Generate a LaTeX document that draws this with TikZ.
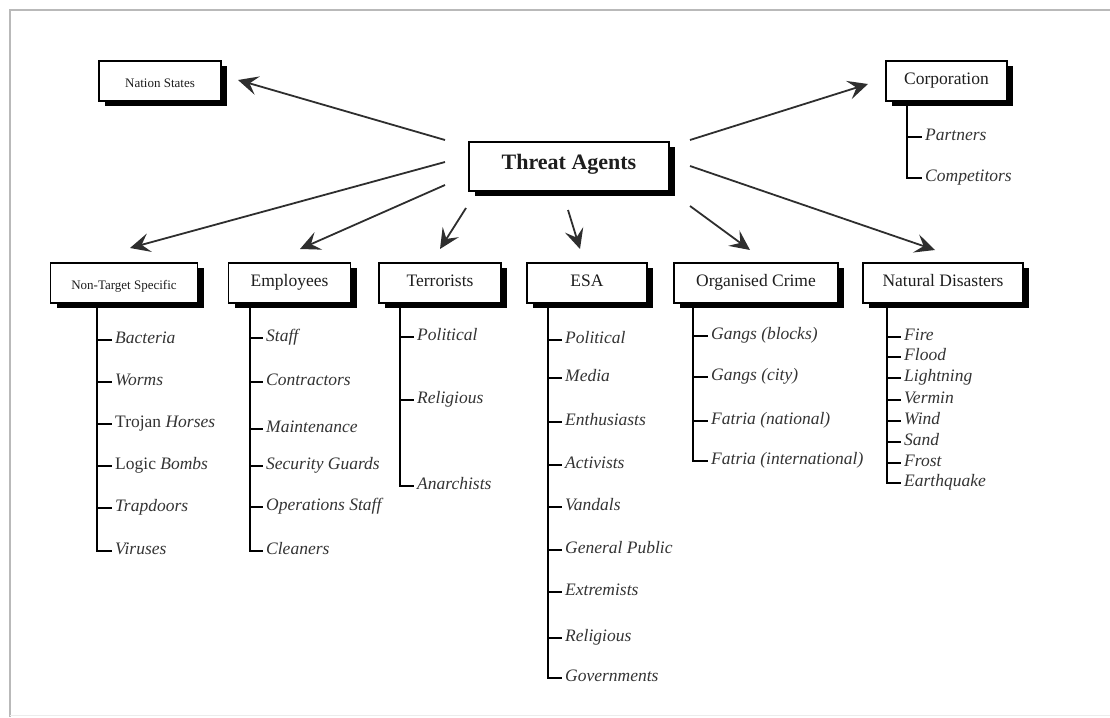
\documentclass[tikz,border=0pt]{standalone}
\usepackage{fontspec}
\setmainfont{Liberation Serif}
\usetikzlibrary{arrows.meta,shadows}
\definecolor{ink}{HTML}{1E1E1E}
\definecolor{itemc}{HTML}{333333}
\definecolor{arrowc}{HTML}{2E2E2E}
\begin{document}
\begin{tikzpicture}[x=1pt,y=-1pt,
  box/.style={draw=black, line width=1.3pt, fill=white,
    drop shadow={shadow xshift=6pt, shadow yshift=-5pt, fill=black, opacity=1},
    minimum height=40pt, inner sep=0pt, text=ink, text height=0.66em, text depth=0pt,
    font=\fontsize{17.5}{20}\selectfont},
  smallbox/.style={box, font=\fontsize{13}{15}\selectfont, text height=1.2em},
  item/.style={anchor=west, inner xsep=3pt, inner ysep=0pt, text height=0.66em, text depth=0pt,
    font=\fontsize{17.5}{20}\selectfont\itshape, text=itemc},
  tree/.style={draw=black, line width=1.6pt},
  link/.style={draw=arrowc, line width=1.8pt, -{Stealth[length=20pt,width=19pt,inset=8pt]}},
]
\useasboundingbox (0,0) rectangle (1110,717);
% frame
\draw[gray!55, line width=1.5pt] (10,717) -- (10,10) -- (1110,10);
\draw[gray!15, line width=1pt] (10,715) -- (1110,715);

% boxes
\node[smallbox, minimum width=122pt] (ns) at (160,81) {Nation States};
\node[box, minimum width=200pt, minimum height=49pt, font=\fontsize{22}{26}\selectfont\bfseries] (ta) at (569,166.5) {Threat Agents};
\node[box, minimum width=121pt] (corp) at (946.5,81) {Corporation};
\node[smallbox, minimum width=147pt] (nts) at (124,283) {Non-Target Specific};
\node[box, minimum width=122pt] (emp) at (289.5,283) {Employees};
\node[box, minimum width=122pt] (ter) at (440,283) {Terrorists};
\node[box, minimum width=120pt] (esa) at (587,283) {ESA};
\node[box, minimum width=164pt] (oc) at (756,283) {Organised Crime};
\node[box, minimum width=160pt] (nd) at (943,283) {Natural Disasters};

% arrows
\coordinate (sNS) at (445,140);  \coordinate (eNS) at (238,80);
\coordinate (sCO) at (690,140);  \coordinate (eCO) at (868,84);
\coordinate (sNT) at (445,162);  \coordinate (eNT) at (130,248);
\coordinate (sEM) at (445,185);  \coordinate (eEM) at (300,249);
\coordinate (sTE) at (466,208);  \coordinate (eTE) at (440,249);
\coordinate (sES) at (568,210);  \coordinate (eES) at (580,249);
\coordinate (sOC) at (690,206);  \coordinate (eOC) at (750,250);
\coordinate (sND) at (690,166);  \coordinate (eND) at (935,250);
\foreach \a in {NS,CO,NT,EM,TE,ES,OC,ND}
  \draw[link] (s\a) -- (e\a);

% Corporation tree
\coordinate (corpT) at (907,101);
\node[item] (corp1) at (922,137) {Partners};
\node[item] (corp2) at (922,178) {Competitors};
\draw[tree] (corpT) |- (corp2.west);
\draw[tree] (corp1.west -| corpT) -- (corp1.west);

% Non-Target Specific tree
\coordinate (ntsT) at (97,303);
\node[item] (nts1) at (112,340) {Bacteria};
\node[item] (nts2) at (112,382) {Worms};
\node[item] (nts3) at (112,424) {{\upshape Trojan} Horses};
\node[item] (nts4) at (112,466) {{\upshape Logic} Bombs};
\node[item] (nts5) at (112,508) {Trapdoors};
\node[item] (nts6) at (112,551) {Viruses};
\draw[tree] (ntsT) |- (nts6.west);
\foreach \i in {1,...,5} \draw[tree] (nts\i.west -| ntsT) -- (nts\i.west);

% Employees tree
\coordinate (empT) at (250,303);
\node[item] (emp1) at (263,338) {Staff};
\node[item] (emp2) at (263,382) {Contractors};
\node[item] (emp3) at (263,429) {Maintenance};
\node[item] (emp4) at (263,466) {Security Guards};
\node[item] (emp5) at (263,507) {Operations Staff};
\node[item] (emp6) at (263,551) {Cleaners};
\draw[tree] (empT) |- (emp6.west);
\foreach \i in {1,...,5} \draw[tree] (emp\i.west -| empT) -- (emp\i.west);

% Terrorists tree
\coordinate (terT) at (400,303);
\node[item] (ter1) at (414,337) {Political};
\node[item] (ter2) at (414,400) {Religious};
\node[item] (ter3) at (414,486) {Anarchists};
\draw[tree] (terT) |- (ter3.west);
\foreach \i in {1,2} \draw[tree] (ter\i.west -| terT) -- (ter\i.west);

% ESA tree
\coordinate (esaT) at (548,303);
\node[item] (esa1) at (562,340) {Political};
\node[item] (esa2) at (562,378) {Media};
\node[item] (esa3) at (562,422) {Enthusiasts};
\node[item] (esa4) at (562,465) {Activists};
\node[item] (esa5) at (562,507) {Vandals};
\node[item] (esa6) at (562,550) {General Public};
\node[item] (esa7) at (562,592) {Extremists};
\node[item] (esa8) at (562,638) {Religious};
\node[item] (esa9) at (562,678) {Governments};
\draw[tree] (esaT) |- (esa9.west);
\foreach \i in {1,...,8} \draw[tree] (esa\i.west -| esaT) -- (esa\i.west);

% Organised Crime tree
\coordinate (ocT) at (693,303);
\node[item] (oc1) at (708,336) {Gangs (blocks)};
\node[item] (oc2) at (708,377) {Gangs (city)};
\node[item] (oc3) at (708,421) {Fatria (national)};
\node[item] (oc4) at (708,461) {Fatria (international)};
\draw[tree] (ocT) |- (oc4.west);
\foreach \i in {1,...,3} \draw[tree] (oc\i.west -| ocT) -- (oc\i.west);

% Natural Disasters tree
\coordinate (ndT) at (887,303);
\node[item] (nd1) at (901,337) {Fire};
\node[item] (nd2) at (901,357) {Flood};
\node[item] (nd3) at (901,378) {Lightning};
\node[item] (nd4) at (901,400) {Vermin};
\node[item] (nd5) at (901,421) {Wind};
\node[item] (nd6) at (901,442) {Sand};
\node[item] (nd7) at (901,463) {Frost};
\node[item] (nd8) at (901,483) {Earthquake};
\draw[tree] (ndT) |- (nd8.west);
\foreach \i in {1,...,7} \draw[tree] (nd\i.west -| ndT) -- (nd\i.west);
\end{tikzpicture}
\end{document}
